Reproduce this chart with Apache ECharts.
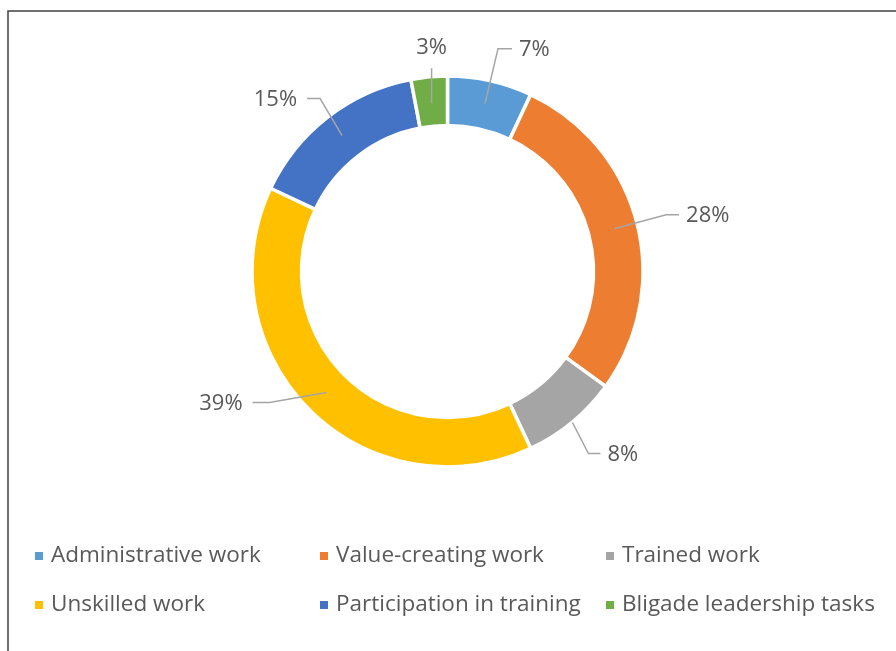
<!DOCTYPE html>
<html>
<head>
<meta charset="utf-8">
<script src="https://cdn.jsdelivr.net/npm/echarts@6/dist/echarts.min.js"></script>
<style>
html,body{margin:0;padding:0;background:#fff;}
#chart{width:896px;height:651px;}
</style>
</head>
<body>
<div id="chart"></div>
<script>
// ---- data ----
var categories = ['Administrative work', 'Value-creating work', 'Trained work', 'Unskilled work', 'Participation in training', 'Bligade leadership tasks'];
var values = [7, 28, 8, 39, 15, 3];
var labels = ['7%', '28%', '8%', '39%', '15%', '3%'];

// ---- style ----
var colors = ['#5B9BD5', '#ED7D31', '#A5A5A5', '#FFC000', '#4472C4', '#70AD47'];
var FONT = 'Open Sans';
var CX = 447.5, CY = 271.5;
// leader-line styling per slice: anchor radius, elbow offset, horizontal tail
var leader = [
  {r: 172, dx: 13, dy: -55, h: 14},
  {r: 172, dx: 52, dy: -14, h: 13},
  {r: 196, dx: 16, dy: 31, h: 12},
  {r: 171, dx: -57, dy: 10, h: -17},
  {r: 172, dx: -22, dy: -37, h: -13},
  {r: 169, dx: 0, dy: -35, h: 0}
];

var total = values.reduce(function (a, b) { return a + b; }, 0);
function midAngle(i) {
  var cum = 0;
  for (var k = 0; k < i; k++) cum += values[k];
  return (90 - 360 * (cum + values[i] / 2) / total) * Math.PI / 180;
}

var chart = echarts.init(document.getElementById('chart'), null, {renderer: 'canvas'});

var legendCols = [[0, 3], [1, 4], [2, 5]];
var legendLeft = [33, 318, 604];
var legends = legendCols.map(function (col, c) {
  return {
    orient: 'vertical',
    left: legendLeft[c],
    top: 544,
    padding: 0,
    itemGap: 25,
    itemWidth: 10,
    itemHeight: 10,
    icon: 'rect',
    selectedMode: false,
    data: col.map(function (i) { return categories[i]; }),
    textStyle: {fontFamily: FONT, fontSize: 22.5, color: '#595959', lineHeight: 24, padding: [0, 0, 0, 2]}
  };
});

var pieData = categories.map(function (name, i) { return {name: name, value: values[i]}; });

var option = {
  backgroundColor: '#ffffff',
  animation: false,
  color: colors,
  legend: legends,
  graphic: [{
    type: 'rect',
    shape: {x: 8, y: 11, width: 1000, height: 1000},
    style: {fill: 'none', stroke: '#404040', lineWidth: 1.5},
    silent: true
  }],
  series: [{
    type: 'pie',
    z: 2,
    center: [CX, CY],
    radius: [146, 195.5],
    startAngle: 90,
    clockwise: true,
    label: {show: false},
    labelLine: {show: false},
    itemStyle: {borderColor: '#ffffff', borderWidth: 3.5},
    data: pieData
  }, {
    // transparent overlay that carries the labels and leader lines above the ring
    type: 'pie',
    z: 5,
    silent: true,
    center: [CX, CY],
    radius: [146, 195.5],
    startAngle: 90,
    clockwise: true,
    avoidLabelOverlap: false,
    itemStyle: {color: 'rgba(0,0,0,0)', borderWidth: 0},
    label: {
      show: true,
      position: 'outside',
      formatter: function (p) { return labels[p.dataIndex]; },
      fontFamily: FONT,
      fontSize: 22,
      color: '#595959'
    },
    labelLine: {show: true, length: 10, length2: 10, smooth: false, lineStyle: {color: '#A5A5A5', width: 1.5}},
    labelLayout: function (p) {
      var i = p.dataIndex, L = leader[i], a = midAngle(i);
      var ax = CX + L.r * Math.cos(a), ay = CY - L.r * Math.sin(a);
      var ex = ax + L.dx, ey = ay + L.dy;
      var tx = ex + L.h;
      var out = {labelLinePoints: [[ax, ay], [ex, ey], [tx, ey]]};
      if (L.h > 0) { out.x = tx + 7; out.y = ey + 1; out.align = 'left'; }
      else if (L.h < 0) { out.x = tx - 10; out.y = ey + 1; out.align = 'right'; }
      else { out.x = ex; out.y = ey - 21; out.align = 'center'; }
      out.verticalAlign = 'middle';
      return out;
    },
    data: pieData
  }]
};
chart.setOption(option);
</script>
</body>
</html>
